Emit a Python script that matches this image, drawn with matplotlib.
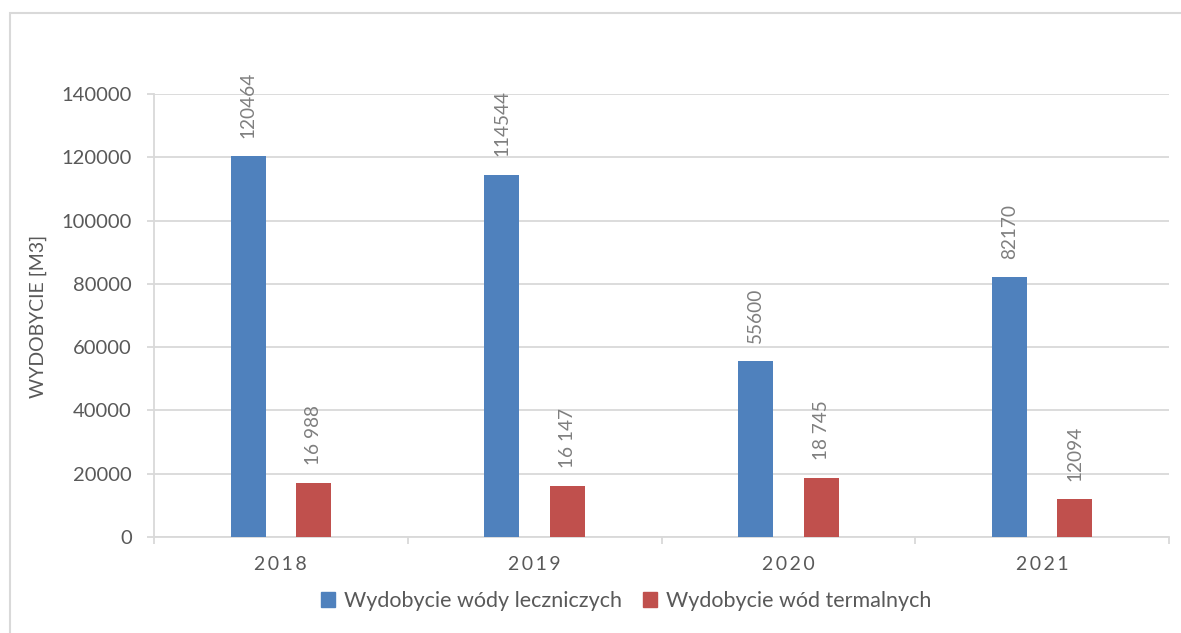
import matplotlib
matplotlib.use("Agg")
import matplotlib.pyplot as plt
from matplotlib.patches import Rectangle, Patch
import numpy as np

years = ["2018", "2019", "2020", "2021"]
lecznicze = [120464, 114544, 55600, 82170]
termalne = [16988, 16147, 18745, 12094]
lecznicze_labels = ["120464", "114544", "55600", "82170"]
termalne_labels = ["16 988", "16 147", "18 745", "12094"]
series_names = ["Wydobycie wódy leczniczych", "Wydobycie wód termalnych"]
y_label = "WYDOBYCIE [M3]"

BLUE = "#4F81BD"
RED = "#C0504D"
GRID = "#D9D9D9"
TXT = "#595959"
LBL = "#7F7F7F"

plt.rcParams['font.family'] = ['Lato', 'DejaVu Sans']

fig = plt.figure(figsize=(11.81, 6.33), dpi=100)
ax = fig.add_axes([154/1181, 1-537/633, (1169-154)/1181, (537-94)/633])

x = np.arange(len(years))
w = 0.138
off = 0.129
b1 = ax.bar(x - off, lecznicze, w, color=BLUE, zorder=3)
b2 = ax.bar(x + off, termalne, w, color=RED, zorder=3)

for bars, labs in ((b1, lecznicze_labels), (b2, termalne_labels)):
    for r, t in zip(bars, labs):
        ax.annotate(t, (r.get_x() + r.get_width()/2, r.get_height()),
                    xytext=(0, 13), textcoords="offset points",
                    rotation=90, ha="center", va="bottom",
                    fontsize=13.7, color=LBL)

ax.set_xlim(-0.5, len(years) - 0.5)
ax.set_ylim(0, 140000)
ax.set_yticks(np.arange(0, 140001, 20000))
ax.set_yticklabels([str(v) for v in range(0, 140001, 20000)])
ax.yaxis.grid(True, color=GRID, lw=1.3, zorder=0)
ax.set_axisbelow(True)

ax.set_xticks(x)
ax.set_xticklabels(["\u2009".join(y) for y in years])
ax.set_xticks(np.arange(-0.5, len(years), 1), minor=True)
ax.tick_params(axis="x", which="major", length=0, pad=14, labelsize=14, labelcolor=TXT)
ax.tick_params(axis="x", which="minor", length=5, width=1.3, color=GRID, direction="out")
ax.tick_params(axis="y", length=5, width=1.3, color=GRID, pad=11, labelsize=14.5, labelcolor=TXT)

for s in ("top", "right"):
    ax.spines[s].set_visible(False)
for s in ("left", "bottom"):
    ax.spines[s].set_color(GRID)
    ax.spines[s].set_linewidth(1.3)

fig.text(38/1181, 1-316/633, y_label, rotation=90, ha="center", va="center",
         fontsize=14, color=TXT)

handles = [Patch(color=BLUE), Patch(color=RED)]
fig.legend(handles, series_names, loc="center", bbox_to_anchor=(626/1181, 1-601/633),
           ncol=2, frameon=False, fontsize=15.5, labelcolor=TXT,
           handlelength=0.65, handleheight=0.65, handletextpad=0.4, columnspacing=1.0)

fig.patches.append(Rectangle((10/1181, -0.2), 2, 1.2 - 13/633, transform=fig.transFigure,
                             fill=False, edgecolor=GRID, lw=1.5))

fig.savefig("out.png", dpi=100)
